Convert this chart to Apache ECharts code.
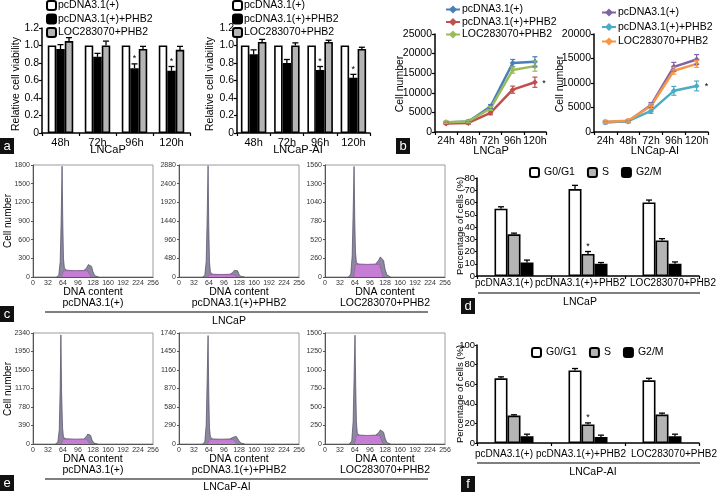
<!DOCTYPE html>
<html><head><meta charset="utf-8">
<script src="https://cdn.jsdelivr.net/npm/echarts@6/dist/echarts.min.js"></script>
<style>html,body{margin:0;padding:0;background:#fff}#c{width:717px;height:492px}</style>
</head><body><div id="c"></div><script>
// ---------- DATA ----------
const hours = ['48h','72h','96h','120h'];
const viabLNCaP_ctrl = [1,1,1,1];
const viabLNCaP_phb2 = [0.96,0.87,0.74,0.71];
const viabLNCaP_phb2Err = [0.05,0.04,0.05,0.05];
const viabLNCaP_loc = [1.05,1.0,0.96,0.95];
const viabLNCaP_locErr = [0.04,0.05,0.03,0.04];
const viabAI_ctrl = [1,1,1,1];
const viabAI_phb2 = [0.90,0.80,0.72,0.63];
const viabAI_phb2Err = [0.05,0.04,0.04,0.04];
const viabAI_loc = [1.04,1.0,1.04,0.96];
const viabAI_locErr = [0.03,0.03,0.02,0.02];

const days = ['24h','48h','72h','96h','120h'];
const grLNCaP_ctrl = [2400,2700,6500,17600,17900];
const grLNCaP_ctrlErr = [300,300,500,900,1300];
const grLNCaP_phb2 = [2200,2300,4900,10800,12700];
const grLNCaP_phb2Err = [300,300,500,900,1300];
const grLNCaP_loc = [2500,2700,6000,15800,16800];
const grLNCaP_locErr = [300,300,500,800,1300];
const grAI_ctrl = [2000,2200,5500,13300,14800];
const grAI_ctrlErr = [300,300,500,900,1000];
const grAI_phb2 = [2000,2200,4300,8400,9400];
const grAI_phb2Err = [300,300,500,900,1000];
const grAI_loc = [2100,2300,5300,12500,13900];
const grAI_locErr = [300,300,500,700,700];

const groups = ['pcDNA3.1(+)','pcDNA3.1(+)+PHB2','LOC283070+PHB2'];
const cycLNCaP_G1 = [55,71,60], cycLNCaP_G1Err = [1.5,3,2];
const cycLNCaP_S = [34,18,29], cycLNCaP_SErr = [1,2,1.5];
const cycLNCaP_G2 = [11,10,10], cycLNCaP_G2Err = [2,1,1.5];
const cycAI_G1 = [66,74,64], cycAI_G1Err = [1.5,2,2];
const cycAI_S = [28,19,29], cycAI_SErr = [0.8,1.5,1.5];
const cycAI_G2 = [7,6,7], cycAI_G2Err = [2,2,2];

const histMaxC = [1800,2880,1560];
const histMaxE = [2340,1740,1500];
const histC1 = [[50,0],[55,30],[58,250],[60,900],[62,1780],[63.5,900],[65,300],[67,140],[72,110],[90,100],[108,105],[114,140],[118,200],[122,225],[125,170],[128,80],[132,20],[140,0]];
const bandC1 = [[61,0],[65,100],[116,100],[124,0]];
const histC2 = [[50,0],[55,40],[58,400],[60,1500],[62,2860],[63.5,1300],[65,400],[67,120],[72,70],[90,65],[108,70],[114,110],[118,170],[122,220],[125,160],[128,70],[132,15],[140,0]];
const bandC2 = [[61,0],[65,60],[116,60],[124,0]];
const histC3 = [[50,0],[55,40],[58,300],[60,900],[62,1540],[63.5,800],[65,350],[67,200],[72,180],[90,175],[108,180],[114,230],[118,280],[122,300],[125,230],[128,110],[132,30],[140,0]];
const bandC3 = [[61,0],[65,175],[116,175],[124,0]];
const histE1 = [[48,0],[53,40],[56,300],[58,1200],[59.5,2300],[61,1100],[63,350],[65,140],[70,110],[90,100],[108,105],[113,150],[117,210],[120,230],[123,180],[126,80],[130,20],[138,0]];
const bandE1 = [[60,0],[64,100],[114,100],[122,0]];
const histE2 = [[50,0],[55,30],[58,300],[60,1000],[62,1700],[63.5,800],[65,250],[67,110],[72,80],[90,75],[108,80],[114,100],[118,115],[122,120],[125,95],[128,50],[132,15],[140,0]];
const bandE2 = [[61,0],[65,70],[116,70],[124,0]];
const histE3 = [[52,0],[57,40],[60,300],[62,900],[64,1470],[65.5,800],[67,300],[69,140],[74,120],[90,115],[108,120],[114,150],[118,190],[122,200],[125,160],[128,80],[132,20],[140,0]];
const bandE3 = [[63,0],[67,115],[116,115],[124,0]];

// ---------- CHART ----------
const FONT = '"Liberation Sans", Arial, sans-serif';
const chart = echarts.init(document.getElementById('c'), null, {renderer:'canvas'});
const plain = v => String(v);

const grids = [
  {left:42, top:28, width:148, height:105},   // 0 a1
  {left:237, top:28, width:133, height:105},  // 1 a2
  {left:435, top:34, width:111, height:98},   // 2 b1
  {left:594, top:34, width:114, height:98},   // 3 b2
  {left:33, top:165, width:120, height:112},  // 4 c1
  {left:179, top:165, width:120, height:112}, // 5 c2
  {left:325, top:165, width:120, height:112}, // 6 c3
  {left:33, top:333, width:120, height:111},  // 7 e1
  {left:179, top:333, width:120, height:111}, // 8 e2
  {left:325, top:333, width:120, height:111}, // 9 e3
  {left:477, top:178, width:222, height:98},  // 10 d
  {left:477, top:345, width:222, height:98}   // 11 f
];
grids.forEach((g,i)=>{ if(i>=4 && i<=9){ g.show=true; g.borderColor='#9a9a9a'; g.borderWidth=1; } });

function catX(gi, data, fs, hideLabels){
  return {gridIndex:gi, type:'category', data, axisLine:{lineStyle:{color:'#000',width:1.5}},
    axisTick:{show:true, length:3, lineStyle:{color:'#000',width:1.2}},
    axisLabel:{show:!hideLabels, fontSize:fs||10.5, color:'#000', margin:4, fontFamily:FONT, interval:0}};
}
function valY(gi, min, max, interval, fs, fmt){
  return {gridIndex:gi, type:'value', min, max, interval, splitLine:{show:false},
    axisLine:{show:true, lineStyle:{color:'#000',width:1.5}},
    axisTick:{show:true, length:3, lineStyle:{color:'#000',width:1.2}},
    axisLabel:{fontSize:fs||10.5, color:'#000', margin:3, fontFamily:FONT, formatter:fmt||plain}};
}
const xAxes = [], yAxes = [];
xAxes.push(catX(0, hours, 11)); yAxes.push(valY(0,0,1.2,0.2,10.5,v=>v===0?'0':v.toFixed(1)));
xAxes.push(catX(1, hours, 11)); yAxes.push(valY(1,0,1.2,0.2,10.5,v=>v===0?'0':v.toFixed(1)));
xAxes.push(catX(2, days, 10.5)); yAxes.push(valY(2,0,25000,5000,10.5));
xAxes.push(catX(3, days, 10.5)); yAxes.push(valY(3,0,20000,5000,10.5));
const hmax = histMaxC.concat(histMaxE);
for(let k=0;k<6;k++){
  const gi = 4+k;
  xAxes.push({gridIndex:gi, type:'value', min:0, max:256, interval:32, splitLine:{show:false},
    axisLine:{lineStyle:{color:'#555',width:1}}, axisTick:{show:false},
    axisLabel:{fontSize:7, color:'#333', margin:3, fontFamily:FONT, formatter:plain}});
  yAxes.push({gridIndex:gi, type:'value', min:0, max:hmax[k], interval:hmax[k]/6, splitLine:{show:false},
    axisLine:{show:true, lineStyle:{color:'#555',width:1}}, axisTick:{show:true, length:2, lineStyle:{color:'#555'}},
    axisLabel:{fontSize:7, color:'#333', margin:3, fontFamily:FONT, formatter:plain}});
}
xAxes.push(catX(10, groups, 10, true)); yAxes.push(valY(10,0,80,10,9.5,plain));
xAxes.push(catX(11, groups, 10, true)); yAxes.push(valY(11,0,100,20,9.5,plain));
yAxes[10].axisLabel.margin = 2; yAxes[11].axisLabel.margin = 2;
yAxes[10].axisTick.length = 2; yAxes[11].axisTick.length = 2;

const series = [];
function bar(name, gi, data, color, bw){
  series.push({type:'bar', name, xAxisIndex:gi, yAxisIndex:gi, data, barWidth:bw, barGap:'0%',
    itemStyle:{color, borderColor:'#000', borderWidth:1.6}, silent:true, z:2});
}
function err(gi, vals, errs, offset, color, both, capW, lw){
  series.push({type:'custom', xAxisIndex:gi, yAxisIndex:gi, z:10, silent:true,
    encode:{x:0,y:1},
    data: vals.map((v,i)=>[i, v, errs[i]]),
    renderItem(params, api){
      const i = api.value(0), v = api.value(1), e = api.value(2);
      const p = api.coord([i, v]), t = api.coord([i, v+e]);
      const b = both ? api.coord([i, v-e]) : p;
      const x = p[0] + offset;
      const st = {stroke:color, lineWidth:lw||1.3};
      const ch = [
        {type:'line', shape:{x1:x,y1:b[1],x2:x,y2:t[1]}, style:st},
        {type:'line', shape:{x1:x-capW,y1:t[1],x2:x+capW,y2:t[1]}, style:st}
      ];
      if(both) ch.push({type:'line', shape:{x1:x-capW,y1:b[1],x2:x+capW,y2:b[1]}, style:st});
      return {type:'group', children:ch};
    }});
}
// a
const BWa = 8.5;
bar('a1|pcDNA3.1(+)',0,viabLNCaP_ctrl,'#fff',BWa);
bar('a1|pcDNA3.1(+)+PHB2',0,viabLNCaP_phb2,'#000',BWa);
bar('a1|LOC283070+PHB2',0,viabLNCaP_loc,'#b4b4b4',BWa);
err(0,viabLNCaP_phb2,viabLNCaP_phb2Err,0,'#000',false,3);
err(0,viabLNCaP_loc,viabLNCaP_locErr,BWa,'#000',false,3);
bar('a2|pcDNA3.1(+)',1,viabAI_ctrl,'#fff',BWa);
bar('a2|pcDNA3.1(+)+PHB2',1,viabAI_phb2,'#000',BWa);
bar('a2|LOC283070+PHB2',1,viabAI_loc,'#b4b4b4',BWa);
err(1,viabAI_phb2,viabAI_phb2Err,0,'#000',false,3);
err(1,viabAI_loc,viabAI_locErr,BWa,'#000',false,3);
// b
function line(name, gi, data, color){
  series.push({type:'line', name, xAxisIndex:gi, yAxisIndex:gi, data, symbol:'diamond', symbolSize:6,
    lineStyle:{width:2.5,color}, itemStyle:{color}, silent:true, z:3});
}
const C_blue='#4a7ebb', C_red='#c0504d', C_green='#9bbb59', C_purple='#8064a2', C_teal='#4bacc6', C_orange='#f79646';
line('b1|pcDNA3.1(+)',2,grLNCaP_ctrl,C_blue);
line('b1|pcDNA3.1(+)+PHB2',2,grLNCaP_phb2,C_red);
line('b1|LOC283070+PHB2',2,grLNCaP_loc,C_green);
err(2,grLNCaP_ctrl,grLNCaP_ctrlErr,0,C_blue,true,2.5,1.2);
err(2,grLNCaP_phb2,grLNCaP_phb2Err,0,C_red,true,2.5,1.2);
err(2,grLNCaP_loc,grLNCaP_locErr,0,C_green,true,2.5,1.2);
line('b2|pcDNA3.1(+)',3,grAI_ctrl,C_purple);
line('b2|pcDNA3.1(+)+PHB2',3,grAI_phb2,C_teal);
line('b2|LOC283070+PHB2',3,grAI_loc,C_orange);
err(3,grAI_ctrl,grAI_ctrlErr,0,C_purple,true,2.5,1.2);
err(3,grAI_phb2,grAI_phb2Err,0,C_teal,true,2.5,1.2);
err(3,grAI_loc,grAI_locErr,0,C_orange,true,2.5,1.2);
// c, e histograms
const hists = [histC1,histC2,histC3,histE1,histE2,histE3];
const bands = [bandC1,bandC2,bandC3,bandE1,bandE2,bandE3];
for(let k=0;k<6;k++){
  const gi = 4+k;
  series.push({type:'line', xAxisIndex:gi, yAxisIndex:gi, data:hists[k], showSymbol:false, silent:true,
    lineStyle:{color:'#4d4860', width:0.7}, areaStyle:{color:'#8d88a0', opacity:1}, z:2});
  series.push({type:'line', xAxisIndex:gi, yAxisIndex:gi, data:bands[k], showSymbol:false, silent:true,
    lineStyle:{color:'#9a55a8', width:0.6}, areaStyle:{color:'#c57ed3', opacity:1}, z:3});
}
// d, f
const BWd = 13;
bar('d|G0/G1',10,cycLNCaP_G1,'#fff',BWd);
bar('d|S',10,cycLNCaP_S,'#b4b4b4',BWd);
bar('d|G2/M',10,cycLNCaP_G2,'#000',BWd);
err(10,cycLNCaP_G1,cycLNCaP_G1Err,-BWd,'#000',false,3);
err(10,cycLNCaP_S,cycLNCaP_SErr,0,'#000',false,3);
err(10,cycLNCaP_G2,cycLNCaP_G2Err,BWd,'#000',false,3);
bar('f|G0/G1',11,cycAI_G1,'#fff',BWd);
bar('f|S',11,cycAI_S,'#b4b4b4',BWd);
bar('f|G2/M',11,cycAI_G2,'#000',BWd);
err(11,cycAI_G1,cycAI_G1Err,-BWd,'#000',false,3);
err(11,cycAI_S,cycAI_SErr,0,'#000',false,3);
err(11,cycAI_G2,cycAI_G2Err,BWd,'#000',false,3);

const strip = n => n.split('|')[1];
const legText = {fontSize:10.5, color:'#000', fontFamily:FONT};
const legBase = {orient:'vertical', formatter:strip, selectedMode:false, padding:0, textStyle:legText};
const legends = [
  Object.assign({}, legBase, {left:46, top:0, itemGap:2.5, itemWidth:9, itemHeight:9, textStyle:Object.assign({},legText,{padding:[0,0,0,-3]}),
    data:['a1|pcDNA3.1(+)','a1|pcDNA3.1(+)+PHB2','a1|LOC283070+PHB2']}),
  Object.assign({}, legBase, {left:232, top:0, itemGap:2.5, itemWidth:9, itemHeight:9, textStyle:Object.assign({},legText,{padding:[0,0,0,-3]}),
    data:['a2|pcDNA3.1(+)','a2|pcDNA3.1(+)+PHB2','a2|LOC283070+PHB2']}),
  Object.assign({}, legBase, {left:445, top:4, itemGap:1.5, itemWidth:14, itemHeight:10, textStyle:Object.assign({},legText,{padding:[0,0,0,-3]}),
    data:['b1|pcDNA3.1(+)','b1|pcDNA3.1(+)+PHB2','b1|LOC283070+PHB2']}),
  Object.assign({}, legBase, {left:601, top:7, itemGap:3.5, itemWidth:14, itemHeight:10, textStyle:Object.assign({},legText,{padding:[0,0,0,-3]}),
    data:['b2|pcDNA3.1(+)','b2|pcDNA3.1(+)+PHB2','b2|LOC283070+PHB2']}),
  Object.assign({}, legBase, {orient:'horizontal', left:529, top:167, itemGap:12, itemWidth:9, itemHeight:9,
    data:['d|G0/G1','d|S','d|G2/M']}),
  Object.assign({}, legBase, {orient:'horizontal', left:531, top:347, itemGap:12, itemWidth:9, itemHeight:9,
    data:['f|G0/G1','f|S','f|G2/M']})
];

function txt(text, x, y, o){
  o = o||{};
  return {type:'text', x, y, rotation:o.rot||0, silent:true, z:20,
    style:{text, fill:o.color||'#000', fontSize:o.fs||11, fontFamily:FONT, fontWeight:o.fw||'normal',
      textAlign:o.align||'center', textVerticalAlign:'middle'}};
}
function plabel(ch, x, y){
  return {type:'group', x, y, silent:true, z:20, children:[
    {type:'rect', shape:{x:0,y:0,width:14,height:16}, style:{fill:'#111'}},
    {type:'text', x:7, y:8.5, style:{text:ch, fill:'#fff', fontSize:13, fontFamily:FONT, textAlign:'center', textVerticalAlign:'middle'}}
  ]};
}
function hline(x1,x2,y){ return {type:'line', silent:true, z:20, shape:{x1,y1:y,x2,y2:y}, style:{stroke:'#000', lineWidth:1.2}}; }
const UP = Math.PI/2;
const graphic = [
  txt('Relative cell viability', 16, 84, {rot:UP, fs:10.5}),
  txt('Relative cell viability', 210, 84, {rot:UP, fs:10.5}),
  txt('LNCaP', 108, 150), txt('LNCaP-AI', 298, 150),
  txt('Cell number', 400, 84, {rot:UP, fs:10.5}),
  txt('Cell number', 560, 84, {rot:UP, fs:10.5}),
  txt('LNCaP', 491, 151), txt('LNCap-AI', 655, 151),
  plabel('a', 0, 138), plabel('b', 396, 138),
  txt('Cell number', 8, 221, {rot:UP, fs:10}),
  txt('Cell number', 8, 389, {rot:UP, fs:10}),
  txt('DNA content', 93, 292, {fs:10.5}), txt('DNA content', 239, 292, {fs:10.5}), txt('DNA content', 385, 292, {fs:10.5}),
  txt('pcDNA3.1(+)', 93, 303, {fs:10.5}), txt('pcDNA3.1(+)+PHB2', 239, 303, {fs:10.5}), txt('LOC283070+PHB2', 385, 303, {fs:10.5}),
  hline(45, 428, 312), txt('LNCaP', 229, 321, {fs:10.5}),
  txt('DNA content', 93, 459, {fs:10.5}), txt('DNA content', 239, 459, {fs:10.5}), txt('DNA content', 385, 459, {fs:10.5}),
  txt('pcDNA3.1(+)', 93, 470, {fs:10.5}), txt('pcDNA3.1(+)+PHB2', 239, 470, {fs:10.5}), txt('LOC283070+PHB2', 385, 470, {fs:10.5}),
  hline(45, 428, 479), txt('LNCaP-AI', 227, 487, {fs:10.5}),
  plabel('c', 0, 306), plabel('e', 0, 475),
  txt('Percentage of cells (%)', 460, 226, {rot:UP, fs:9.5}),
  txt('Percentage of cells (%)', 460, 394, {rot:UP, fs:9.5}),
  txt(groups[0], 504, 283, {fs:10}), txt(groups[1], 580, 283, {fs:10}), txt(groups[2], 673, 283, {fs:10}),
  hline(478, 700, 293), txt('LNCaP', 580, 302, {fs:10.5}),
  txt(groups[0], 504, 454, {fs:10}), txt(groups[1], 581, 454, {fs:10}), txt(groups[2], 674, 454, {fs:10}),
  hline(477, 700, 463), txt('LNCaP-AI', 593, 472, {fs:10.5}),
  plabel('d', 461, 298), plabel('f', 461, 476)
];

chart.setOption({animation:false, textStyle:{fontFamily:FONT}, grid:grids, xAxis:xAxes, yAxis:yAxes,
  series, legend:legends, graphic});

// asterisks positioned through the library's own scales
function star(gi, cat, val, dx, dy){
  const p = chart.convertToPixel({gridIndex:gi}, [cat, val]);
  return txt('*', p[0]+dx, p[1]+dy, {fs:9});
}
const stars = [
  star(0, 2, viabLNCaP_phb2[2]+viabLNCaP_phb2Err[2], 0, -5),
  star(0, 3, viabLNCaP_phb2[3]+viabLNCaP_phb2Err[3], 0, -5),
  star(1, 2, viabAI_phb2[2]+viabAI_phb2Err[2], 0, -5),
  star(1, 3, viabAI_phb2[3]+viabAI_phb2Err[3], 0, -5),
  star(2, 4, grLNCaP_phb2[4], 9, 1),
  star(3, 4, grAI_phb2[4], 10, 1),
  star(10, 1, cycLNCaP_S[1]+cycLNCaP_SErr[1], 0, -5),
  star(11, 1, cycAI_S[1]+cycAI_SErr[1], 0, -5)
];
chart.setOption({graphic: graphic.concat(stars)});
</script></body></html>
